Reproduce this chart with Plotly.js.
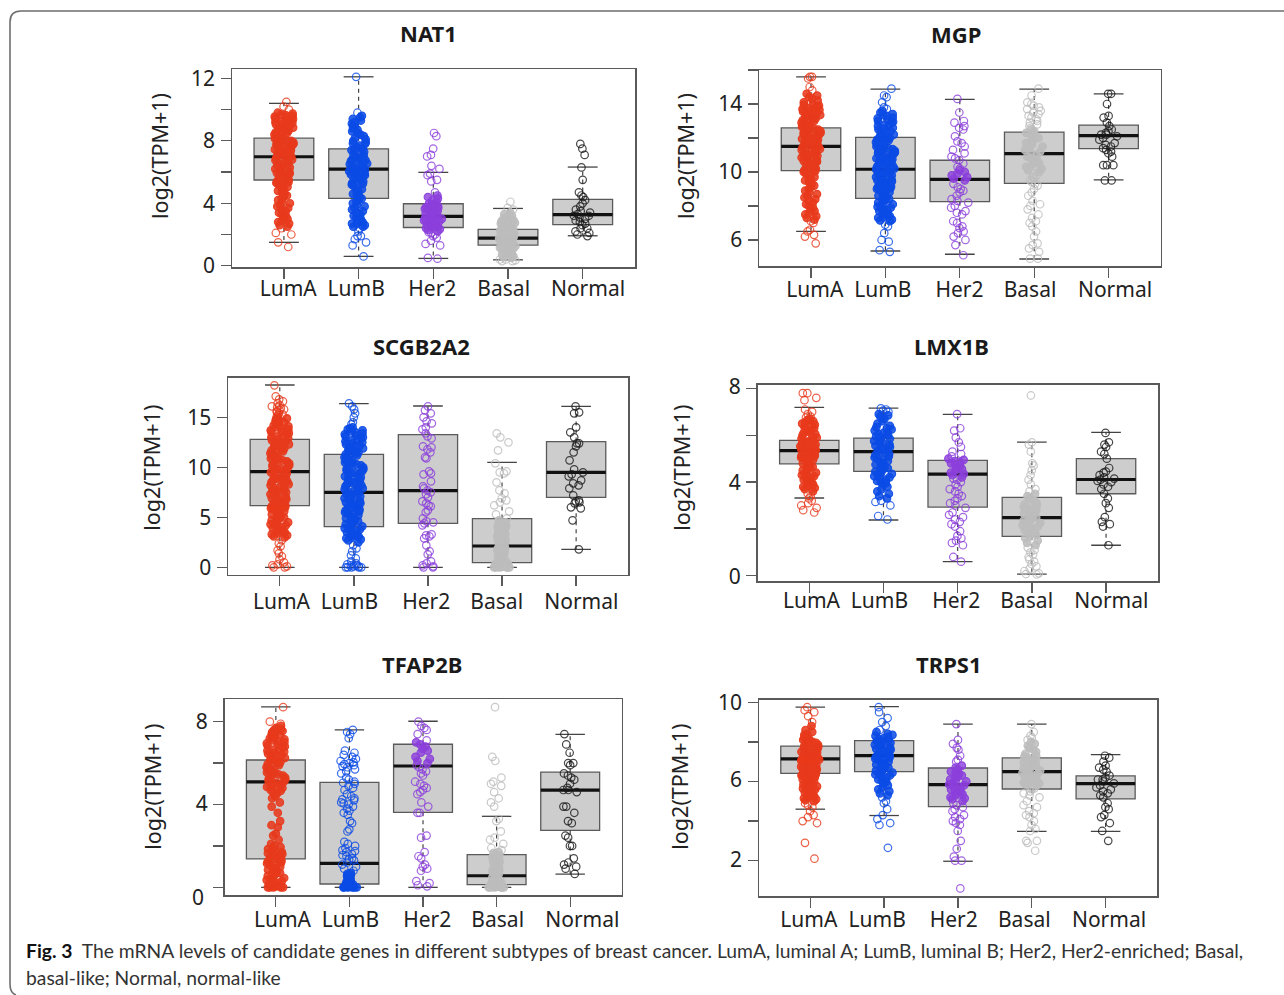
<!DOCTYPE html>
<html>
<head>
<meta charset="utf-8">
<script src="https://cdn.plot.ly/plotly-3.0.1.min.js"></script>
<style>html,body{margin:0;padding:0;background:#fff}#chart{width:1284px;height:995px}</style>
</head>
<body>
<div id="chart"></div>
<script>
// ---------- categories ----------
const subtypes = ['LumA','LumB','Her2','Basal','Normal'];
const positions = [1,2,3,4,5];
const genes = ['NAT1','MGP','SCGB2A2','LMX1B','TFAP2B','TRPS1'];

// ---------- box statistics, one array per gene ----------
const NAT1_q1 = [5.49,4.31,2.45,1.32,2.63], NAT1_med = [6.98,6.19,3.16,1.77,3.27], NAT1_q3 = [8.17,7.49,3.97,2.33,4.25], NAT1_lo = [1.5,0.6,0.47,0.38,1.92], NAT1_hi = [10.4,12.1,5.98,3.67,6.32];
const MGP_q1 = [10.08,8.45,8.25,9.33,11.37], MGP_med = [11.51,10.16,9.57,11.08,12.14], MGP_q3 = [12.59,12.04,10.69,12.35,12.76], MGP_lo = [6.51,5.35,5.16,4.88,9.53], MGP_hi = [15.6,14.88,14.27,14.88,14.6];
const SCGB_q1 = [6.17,4.07,4.4,0.47,7.0], SCGB_med = [9.57,7.5,7.67,2.13,9.5], SCGB_q3 = [12.8,11.3,13.27,4.87,12.57], SCGB_lo = [0,0,0,0,1.8], SCGB_hi = [18.23,16.37,16.13,10.5,16.1];
const LMX_q1 = [4.78,4.46,2.93,1.68,3.5], LMX_med = [5.34,5.3,4.34,2.48,4.11], LMX_q3 = [5.78,5.88,4.93,3.35,5.0], LMX_lo = [3.32,2.38,0.6,0.07,1.3], LMX_hi = [7.19,7.16,6.89,5.71,6.12];
const TFAP_q1 = [1.37,0.16,3.62,0.13,2.75], TFAP_med = [5.09,1.16,5.86,0.56,4.69], TFAP_q3 = [6.15,5.07,6.91,1.58,5.56], TFAP_lo = [0,0,0,0,0.64], TFAP_hi = [8.71,7.6,8.02,3.43,7.39];
const TRPS_q1 = [6.41,6.5,4.73,5.62,5.12], TRPS_med = [7.14,7.31,5.84,6.5,5.89], TRPS_q3 = [7.79,8.06,6.68,7.19,6.28], TRPS_lo = [4.6,4.28,1.97,3.48,3.48], TRPS_hi = [9.76,9.78,8.9,8.9,7.36];

// ---------- individual samples ----------
const NAT1_LumA = [1.2,1.5,2.0,2.1,2.4,2.5,2.6,2.7,2.8,2.9,3.0,3.1,3.2,3.3,3.4,3.5,3.6,3.7,3.8,3.9,4.0,4.1,4.2,4.3,4.4,4.5,4.6,4.7,4.8,4.9,5.0,5.05,5.1,5.2,5.3,5.35,5.4,5.5,5.55,5.6,5.7,5.75,5.8,5.9,5.95,6.0,6.05,6.1,6.2,6.25,6.3,6.4,6.45,6.5,6.55,6.6,6.7,6.75,6.8,6.85,6.9,7.0,7.05,7.1,7.15,7.2,7.25,7.3,7.35,7.4,7.45,7.5,7.55,7.6,7.65,7.7,7.75,7.8,7.85,7.9,7.95,8.0,8.05,8.1,8.15,8.2,8.25,8.3,8.35,8.4,8.45,8.5,8.55,8.6,8.65,8.7,8.75,8.8,8.85,8.9,8.95,9.0,9.05,9.1,9.15,9.2,9.25,9.3,9.35,9.4,9.45,9.5,9.55,9.6,9.65,9.7,9.75,9.8,10.0,10.2,10.5];
const NAT1_LumB = [0.6,1.3,1.5,1.7,1.9,1.9,2.2,2.4,2.5,2.5,2.6,2.7,2.7,2.8,2.9,3.0,3.1,3.2,3.3,3.4,3.5,3.6,3.7,3.8,3.9,4.0,4.1,4.2,4.3,4.4,4.5,4.6,4.7,4.8,4.9,5.0,5.1,5.2,5.25,5.3,5.4,5.5,5.55,5.6,5.7,5.75,5.8,5.85,5.9,5.95,6.0,6.05,6.1,6.15,6.2,6.25,6.3,6.35,6.4,6.45,6.5,6.55,6.6,6.7,6.75,6.8,6.85,6.9,7.0,7.05,7.1,7.2,7.3,7.4,7.45,7.5,7.6,7.7,7.8,7.85,7.9,8.0,8.1,8.2,8.3,8.4,8.5,8.6,8.7,8.8,8.9,9.0,9.1,9.2,9.3,9.4,9.5,9.6,9.8,12.1];
const NAT1_Her2 = [0.45,0.5,1.3,1.4,1.6,1.8,1.9,2.0,2.1,2.15,2.2,2.3,2.35,2.4,2.45,2.5,2.55,2.6,2.65,2.7,2.75,2.8,2.85,2.9,2.95,3.0,3.0,3.05,3.1,3.15,3.2,3.25,3.3,3.35,3.4,3.45,3.5,3.55,3.6,3.65,3.7,3.75,3.8,3.85,3.9,4.0,4.1,4.2,4.3,4.4,4.5,4.7,5.4,5.5,5.8,5.9,6.2,6.4,7.0,7.1,7.5,8.3,8.5];
const NAT1_Basal = [0.3,0.3,0.35,0.4,0.4,0.5,0.55,0.6,0.7,0.75,0.8,0.85,0.9,0.95,1.0,1.05,1.1,1.1,1.15,1.2,1.25,1.3,1.3,1.35,1.4,1.45,1.5,1.5,1.55,1.6,1.6,1.65,1.7,1.7,1.75,1.8,1.8,1.85,1.9,1.9,1.95,2.0,2.0,2.05,2.1,2.15,2.2,2.2,2.25,2.3,2.35,2.4,2.45,2.5,2.55,2.6,2.65,2.7,2.75,2.8,2.85,2.9,2.95,3.0,3.05,3.1,3.2,3.3,3.4,3.6,3.7,4.1];
const NAT1_Normal = [1.9,2.0,2.1,2.2,2.4,2.4,2.6,2.7,2.8,2.9,3.0,3.1,3.2,3.2,3.3,3.4,3.5,3.6,3.8,4.0,4.2,4.4,4.5,4.7,5.5,6.3,7.1,7.5,7.8];

const MGP_LumA = [5.8,6.2,6.3,6.5,6.6,7.0,7.1,7.2,7.3,7.4,7.5,7.6,7.7,7.8,7.9,8.0,8.1,8.2,8.3,8.4,8.5,8.6,8.7,8.8,8.9,9.0,9.1,9.2,9.3,9.4,9.5,9.55,9.6,9.7,9.8,9.9,10.0,10.05,10.1,10.2,10.25,10.3,10.4,10.45,10.5,10.6,10.65,10.7,10.75,10.8,10.85,10.9,10.95,11.0,11.05,11.1,11.15,11.2,11.25,11.3,11.35,11.4,11.45,11.5,11.55,11.6,11.65,11.7,11.75,11.8,11.85,11.9,11.95,12.0,12.05,12.1,12.15,12.2,12.25,12.3,12.35,12.4,12.45,12.5,12.55,12.6,12.65,12.7,12.75,12.8,12.85,12.9,12.95,13.0,13.05,13.1,13.15,13.2,13.25,13.3,13.35,13.4,13.45,13.5,13.55,13.6,13.65,13.7,13.75,13.8,13.85,13.9,13.95,14.0,14.1,14.2,14.3,14.4,14.5,14.6,14.8,15.0,15.5,15.6,15.6];
const MGP_LumB = [5.3,5.4,5.9,6.0,6.4,6.8,6.9,7.1,7.15,7.2,7.3,7.35,7.4,7.5,7.55,7.6,7.7,7.75,7.8,7.9,7.95,8.0,8.1,8.15,8.2,8.3,8.35,8.4,8.5,8.55,8.6,8.7,8.75,8.8,8.9,8.95,9.0,9.05,9.1,9.15,9.2,9.25,9.3,9.35,9.4,9.45,9.5,9.55,9.6,9.65,9.7,9.75,9.8,9.85,9.9,9.95,10.0,10.05,10.1,10.15,10.2,10.25,10.3,10.35,10.4,10.45,10.5,10.55,10.6,10.65,10.7,10.75,10.8,10.85,10.9,10.95,11.0,11.05,11.1,11.15,11.2,11.25,11.3,11.35,11.4,11.45,11.5,11.55,11.6,11.65,11.7,11.75,11.8,11.85,11.9,11.95,12.0,12.05,12.1,12.15,12.2,12.3,12.35,12.4,12.5,12.55,12.6,12.7,12.75,12.8,12.9,12.95,13.0,13.1,13.15,13.2,13.3,13.35,13.4,13.5,13.6,13.7,13.8,14.1,14.4,14.5,14.9];
const MGP_Her2 = [5.1,5.7,6.0,6.2,6.4,6.5,6.7,6.8,7.0,7.1,7.5,7.6,7.7,7.9,8.0,8.2,8.3,8.4,8.6,8.8,8.9,9.0,9.1,9.3,9.5,9.6,9.7,9.8,9.9,10.0,10.1,10.2,10.3,10.5,10.7,10.8,10.9,11.1,11.3,11.5,11.7,11.8,12.1,12.5,12.6,12.7,12.9,13.0,13.5,14.3];
const MGP_Basal = [4.9,4.9,5.3,5.5,5.7,5.8,6.2,6.5,6.8,7.0,7.1,7.3,7.5,7.8,8.0,8.1,8.3,8.6,8.8,9.0,9.2,9.3,9.4,9.5,9.6,9.7,9.8,9.9,10.0,10.1,10.2,10.3,10.4,10.5,10.6,10.7,10.8,10.9,11.0,11.1,11.2,11.3,11.4,11.5,11.6,11.7,11.8,11.9,12.0,12.1,12.2,12.3,12.4,12.5,12.6,12.7,12.8,12.9,13.0,13.1,13.2,13.3,13.4,13.5,13.6,13.7,13.8,13.9,14.0,14.1,14.5,14.9];
const MGP_Normal = [9.5,9.5,10.4,10.4,10.4,10.9,11.1,11.2,11.3,11.4,11.5,11.6,11.7,11.9,12.0,12.1,12.2,12.2,12.3,12.4,12.5,12.7,12.9,13.2,13.3,14.0,14.6,14.6];

const SCGB_LumA = [0,0,0.1,0.2,0.3,0.5,0.8,1.1,1.4,1.7,2.1,2.4,2.7,3.0,3.1,3.2,3.3,3.4,3.5,3.6,3.7,3.8,3.9,4.0,4.1,4.2,4.3,4.4,4.5,4.6,4.7,4.8,4.9,5.0,5.1,5.2,5.3,5.4,5.5,5.6,5.7,5.8,5.9,6.0,6.1,6.2,6.3,6.4,6.5,6.6,6.7,6.8,6.9,7.0,7.1,7.2,7.3,7.4,7.5,7.6,7.7,7.8,7.9,8.0,8.1,8.2,8.3,8.4,8.5,8.6,8.7,8.8,8.9,9.0,9.1,9.2,9.3,9.4,9.5,9.6,9.7,9.8,9.9,10.0,10.1,10.2,10.3,10.4,10.5,10.6,10.7,10.8,10.9,11.0,11.1,11.2,11.3,11.4,11.5,11.6,11.7,11.8,11.9,12.0,12.1,12.2,12.3,12.4,12.5,12.6,12.7,12.8,12.9,13.0,13.1,13.2,13.3,13.4,13.5,13.6,13.7,13.8,13.9,14.0,14.1,14.2,14.3,14.4,14.5,14.6,14.7,14.8,14.9,15.0,15.1,15.2,15.3,15.4,15.5,15.6,15.7,15.8,15.9,16.0,16.1,16.2,16.4,16.6,16.8,17.1,18.2];
const SCGB_LumB = [0,0,0,0,0,0.1,0.1,0.2,0.2,0.3,0.4,0.6,0.9,1.2,1.6,1.9,2.2,2.5,2.7,2.8,2.9,3.0,3.1,3.2,3.3,3.4,3.5,3.6,3.7,3.8,3.9,4.0,4.1,4.2,4.3,4.4,4.5,4.6,4.7,4.8,4.9,5.0,5.1,5.2,5.3,5.4,5.5,5.6,5.7,5.8,5.9,6.0,6.1,6.2,6.3,6.4,6.5,6.6,6.7,6.8,6.9,7.0,7.1,7.2,7.3,7.4,7.5,7.6,7.7,7.8,7.9,8.0,8.1,8.2,8.3,8.4,8.5,8.6,8.7,8.8,8.9,9.0,9.1,9.2,9.3,9.4,9.5,9.6,9.7,9.8,9.9,10.0,10.1,10.2,10.3,10.4,10.5,10.6,10.7,10.8,10.9,11.0,11.1,11.2,11.3,11.4,11.5,11.6,11.7,11.8,11.9,12.0,12.1,12.2,12.3,12.4,12.5,12.6,12.7,12.8,12.9,13.0,13.1,13.2,13.3,13.4,13.5,13.6,13.7,13.8,13.9,14.0,14.3,14.5,15.0,15.4,15.8,16.1,16.4];
const SCGB_Her2 = [0,0,0.1,0.2,0.4,0.6,1.3,1.6,2.2,2.9,3.1,3.2,3.3,4.2,4.4,4.5,4.6,4.9,5.5,5.7,6.1,6.2,6.4,6.6,7.0,7.3,7.5,7.7,7.9,8.1,8.6,9.3,9.4,9.6,10.9,11.0,11.5,11.8,12.0,12.1,12.9,13.1,13.4,13.8,14.0,14.4,14.6,15.0,15.4,15.7,16.1];
const SCGB_Basal = [0,0,0,0,0,0,0.05,0.1,0.1,0.15,0.2,0.2,0.3,0.3,0.4,0.4,0.5,0.5,0.6,0.7,0.8,0.9,1.0,1.1,1.2,1.3,1.4,1.5,1.6,1.7,1.8,1.9,2.0,2.1,2.2,2.3,2.4,2.5,2.6,2.7,2.8,2.9,3.0,3.1,3.2,3.3,3.4,3.5,3.6,3.7,3.8,3.9,4.0,4.1,4.2,4.3,4.5,4.7,4.9,5.3,5.6,6.2,6.5,6.7,6.9,7.4,7.7,8.5,9.4,9.5,9.6,10.4,11.7,12.5,13.0,13.4];
const SCGB_Normal = [1.8,4.7,5.9,6.0,6.4,6.5,6.6,6.7,7.2,7.9,8.2,8.4,8.7,9.1,9.3,9.5,9.8,10.7,11.5,12.1,12.4,12.4,13.0,13.5,14.0,15.4,15.5,16.1];

const LMX_LumA = [2.7,2.8,2.9,3.0,3.1,3.2,3.3,3.4,3.5,3.6,3.7,3.75,3.8,3.85,3.9,3.95,4.0,4.05,4.1,4.15,4.2,4.25,4.3,4.35,4.4,4.45,4.5,4.55,4.6,4.65,4.7,4.75,4.8,4.85,4.9,4.95,5.0,5.03,5.05,5.1,5.13,5.15,5.2,5.23,5.25,5.3,5.33,5.35,5.4,5.43,5.45,5.5,5.53,5.55,5.6,5.63,5.65,5.7,5.73,5.75,5.8,5.85,5.9,5.95,6.0,6.05,6.1,6.15,6.2,6.25,6.3,6.35,6.4,6.45,6.5,6.55,6.6,6.65,6.7,6.75,6.8,6.9,7.0,7.1,7.5,7.6,7.8,7.8];
const LMX_LumB = [2.4,2.55,3.0,3.15,3.2,3.3,3.4,3.5,3.6,3.7,3.8,3.9,3.95,4.0,4.05,4.1,4.15,4.2,4.25,4.3,4.35,4.4,4.45,4.5,4.55,4.6,4.65,4.7,4.75,4.8,4.85,4.9,4.95,5.0,5.05,5.1,5.15,5.2,5.25,5.3,5.35,5.4,5.45,5.5,5.55,5.6,5.65,5.7,5.75,5.8,5.85,5.9,5.95,6.0,6.05,6.1,6.15,6.2,6.25,6.3,6.35,6.4,6.5,6.6,6.7,6.8,6.85,6.9,7.0,7.05,7.1,7.15];
const LMX_Her2 = [0.6,0.8,1.3,1.4,1.5,1.6,1.7,1.9,2.1,2.2,2.3,2.4,2.5,2.6,2.7,2.9,3.0,3.1,3.2,3.3,3.4,3.5,3.6,3.7,3.8,3.9,4.0,4.1,4.15,4.2,4.3,4.35,4.4,4.5,4.55,4.6,4.7,4.75,4.8,4.85,4.9,4.95,5.0,5.1,5.2,5.3,5.5,5.7,5.9,6.2,6.3,6.9];
const LMX_Basal = [0.05,0.07,0.1,0.2,0.3,0.4,0.5,0.6,0.7,0.8,0.9,1.0,1.1,1.2,1.3,1.4,1.5,1.6,1.7,1.75,1.8,1.85,1.9,1.95,2.0,2.05,2.1,2.15,2.2,2.25,2.3,2.35,2.4,2.45,2.5,2.55,2.6,2.65,2.7,2.75,2.8,2.85,2.9,2.95,3.0,3.05,3.1,3.2,3.3,3.4,3.5,3.6,3.7,3.9,4.1,4.3,4.5,4.7,4.8,5.3,5.6,5.7,7.7];
const LMX_Normal = [1.3,2.1,2.2,2.3,2.5,2.9,3.1,3.3,3.5,3.7,3.8,3.9,4.0,4.05,4.1,4.15,4.2,4.3,4.4,4.45,4.6,5.0,5.2,5.3,5.5,5.6,5.7,6.1];

const TFAP_LumA = [0,0,0,0,0,0.05,0.05,0.1,0.1,0.15,0.2,0.25,0.3,0.35,0.4,0.45,0.5,0.55,0.6,0.65,0.7,0.75,0.8,0.85,0.9,0.95,1.0,1.05,1.1,1.15,1.2,1.25,1.3,1.35,1.4,1.45,1.5,1.55,1.6,1.65,1.7,1.75,1.8,1.85,1.9,1.95,2.0,2.1,2.3,2.5,2.6,2.9,3.0,3.2,3.6,3.9,4.1,4.3,4.4,4.5,4.6,4.65,4.7,4.75,4.8,4.85,4.9,4.95,5.0,5.05,5.1,5.15,5.2,5.25,5.3,5.35,5.4,5.45,5.5,5.55,5.6,5.65,5.7,5.75,5.8,5.85,5.9,5.95,6.0,6.05,6.1,6.15,6.2,6.25,6.3,6.35,6.4,6.45,6.5,6.55,6.6,6.65,6.7,6.75,6.8,6.85,6.9,6.95,7.0,7.05,7.1,7.15,7.2,7.25,7.3,7.35,7.4,7.45,7.5,7.55,7.6,7.65,7.7,7.8,7.9,8.0,8.7];
const TFAP_LumB = [0,0,0,0,0,0,0.02,0.02,0.05,0.05,0.08,0.1,0.1,0.1,0.12,0.15,0.15,0.2,0.2,0.2,0.25,0.25,0.3,0.3,0.35,0.4,0.4,0.45,0.5,0.55,0.6,0.65,0.7,0.8,0.9,1.0,1.1,1.2,1.3,1.35,1.4,1.5,1.55,1.6,1.7,1.75,1.8,1.9,2.0,2.1,2.2,2.7,2.8,3.1,3.2,3.5,3.6,3.7,3.8,3.9,4.0,4.05,4.1,4.2,4.25,4.3,4.4,4.5,4.7,4.8,4.9,5.0,5.05,5.1,5.2,5.3,5.5,5.6,5.7,5.8,5.85,5.9,5.95,6.0,6.05,6.1,6.2,6.3,6.4,6.5,6.6,7.2,7.4,7.5,7.6];
const TFAP_Her2 = [0.05,0.1,0.2,0.3,0.8,0.9,1.0,1.1,1.4,1.5,1.7,2.4,2.5,3.6,3.6,3.9,4.1,4.5,4.6,4.7,4.8,4.9,5.0,5.1,5.4,5.5,5.6,5.7,5.8,5.9,6.0,6.1,6.2,6.3,6.5,6.6,6.7,6.8,6.9,7.0,7.1,7.4,7.6,7.7,7.8,8.0];
const TFAP_Basal = [0,0,0,0,0,0,0.02,0.05,0.05,0.1,0.1,0.15,0.15,0.2,0.2,0.25,0.3,0.3,0.35,0.4,0.4,0.45,0.5,0.5,0.55,0.6,0.65,0.7,0.7,0.75,0.8,0.85,0.9,0.95,1.0,1.05,1.1,1.15,1.2,1.25,1.3,1.35,1.4,1.45,1.5,1.55,1.6,1.65,1.7,1.8,1.9,2.1,2.3,2.4,2.7,3.2,3.3,3.9,4.1,4.3,4.6,4.9,5.0,5.1,5.3,6.1,6.3,8.7];
const TFAP_Normal = [0.65,0.9,1.0,1.1,1.2,1.4,2.0,2.0,2.4,2.5,3.1,3.2,3.6,3.9,3.9,4.6,4.7,4.7,4.8,5.0,5.2,5.3,5.4,5.5,5.9,6.0,6.0,6.5,6.9,7.4];

const TRPS_LumA = [2.1,2.9,3.9,4.0,4.2,4.3,4.5,4.7,4.8,4.9,5.0,5.05,5.1,5.15,5.2,5.25,5.3,5.35,5.4,5.45,5.5,5.55,5.6,5.65,5.7,5.75,5.8,5.85,5.9,5.95,6.0,6.03,6.05,6.1,6.13,6.15,6.2,6.23,6.25,6.3,6.33,6.35,6.4,6.43,6.45,6.5,6.53,6.55,6.6,6.63,6.65,6.7,6.73,6.75,6.8,6.83,6.85,6.9,6.93,6.95,7.0,7.03,7.05,7.1,7.13,7.15,7.2,7.23,7.25,7.3,7.33,7.35,7.4,7.43,7.45,7.5,7.53,7.55,7.6,7.63,7.65,7.7,7.75,7.8,7.85,7.9,7.95,8.0,8.05,8.1,8.15,8.2,8.25,8.3,8.35,8.4,8.5,8.6,8.8,9.0,9.3,9.5,9.6,9.75];
const TRPS_LumB = [2.65,3.8,3.9,4.1,4.3,4.6,4.9,5.0,5.2,5.3,5.4,5.5,5.6,5.7,5.8,5.9,6.0,6.05,6.1,6.2,6.25,6.3,6.35,6.4,6.45,6.5,6.55,6.6,6.65,6.7,6.75,6.8,6.85,6.9,6.95,7.0,7.05,7.1,7.15,7.2,7.25,7.3,7.35,7.4,7.45,7.5,7.55,7.6,7.65,7.7,7.75,7.8,7.85,7.9,7.95,8.0,8.05,8.1,8.15,8.2,8.25,8.3,8.35,8.4,8.5,8.6,8.8,9.0,9.2,9.5,9.75];
const TRPS_Her2 = [0.6,2.0,2.0,2.2,2.6,3.0,3.5,3.8,3.9,4.0,4.1,4.2,4.3,4.5,4.6,4.7,4.8,4.9,5.0,5.1,5.15,5.2,5.3,5.35,5.4,5.5,5.55,5.6,5.7,5.75,5.8,5.85,5.9,6.0,6.05,6.1,6.2,6.25,6.3,6.4,6.45,6.5,6.6,6.7,6.8,7.0,7.1,7.3,7.6,7.7,7.9,8.1,8.9];
const TRPS_Basal = [2.5,2.9,3.0,3.0,3.5,3.6,3.8,4.0,4.2,4.3,4.4,4.5,4.7,4.8,5.0,5.2,5.3,5.4,5.5,5.6,5.65,5.7,5.75,5.8,5.85,5.9,5.95,6.0,6.05,6.1,6.15,6.2,6.25,6.3,6.35,6.4,6.45,6.5,6.55,6.6,6.65,6.7,6.75,6.8,6.85,6.9,6.95,7.0,7.05,7.1,7.15,7.2,7.25,7.3,7.4,7.5,7.6,7.7,7.8,7.9,8.0,8.1,8.2,8.3,8.5,8.9];
const TRPS_Normal = [3.0,3.5,3.9,4.2,4.3,4.6,4.7,4.9,5.2,5.3,5.4,5.5,5.6,5.7,5.8,5.9,6.0,6.1,6.1,6.2,6.3,6.5,6.6,6.7,6.8,7.0,7.2,7.3];

// ---------- axis ticks ----------
const NAT1_ticks = [0,2,4,6,8,10,12], NAT1_labels = ['0','','4','','8','','12'];
const MGP_ticks = [6,8,10,12,14,16], MGP_labels = ['6','','10','','14',''];
const SCGB_ticks = [0,5,10,15], SCGB_labels = ['0','5','10','15'];
const LMX_ticks = [0,2,4,6,8], LMX_labels = ['0','','4','','8'];
const TFAP_ticks = [0,2,4,6,8], TFAP_labels = ['','','4','','8'];
const TRPS_ticks = [2,4,6,8,10], TRPS_labels = ['2','','6','','10'];

// ---------- styling and layout (pixels on the 1284x995 page) ----------
const colors = ['#E83A1C','#0B4BE6','#8C3FDC','#BDBDBD','#1A1A1A'];
const coreFills = ['rgba(232,58,28,.92)','rgba(11,75,230,.9)','rgba(140,63,220,.85)','rgba(189,189,189,.9)','rgba(0,0,0,0)'];
const W = 1284, H = 995, FONT = 'Noto Sans, Open Sans, sans-serif';
// value band of each subtype where the picture's rings merge into a solid column
const panels = [
 {g:'NAT1', q1:NAT1_q1,med:NAT1_med,q3:NAT1_q3,lo:NAT1_lo,hi:NAT1_hi, s:[NAT1_LumA,NAT1_LumB,NAT1_Her2,NAT1_Basal,NAT1_Normal], t:NAT1_ticks,l:NAT1_labels, lt:NAT1_ticks,
  box:[232,635,69,267], yr:[-0.08,12.6], title:[428,33], yt:[159,156], lx:[288.2,356.2,432.3,503.7,588], so:7,
  solid:[[2.5,9.8],[2.5,9.6],[2.2,4.5],[0.5,3.4],null]},
 {g:'MGP', q1:MGP_q1,med:MGP_med,q3:MGP_q3,lo:MGP_lo,hi:MGP_hi, s:[MGP_LumA,MGP_LumB,MGP_Her2,MGP_Basal,MGP_Normal], t:MGP_ticks,l:MGP_labels, lt:MGP_ticks,
  box:[759.3,1160.7,70,266.3], yr:[4.45,16], title:[955.5,34], yt:[685,156], lx:[814.8,882.8,959.5,1030,1115], so:9,
  solid:[[7.2,14.6],[7,13.6],[9.5,10.1],[10,12.5],null]},
 {g:'SCGB2A2', q1:SCGB_q1,med:SCGB_med,q3:SCGB_q3,lo:SCGB_lo,hi:SCGB_hi, s:[SCGB_LumA,SCGB_LumB,SCGB_Her2,SCGB_Basal,SCGB_Normal], t:SCGB_ticks,l:SCGB_labels, lt:SCGB_ticks,
  box:[228.3,628,377.7,574.7], yr:[-0.74,18.96], title:[421.5,346], yt:[152,467.7], lx:[281.5,349.5,426.2,496.7,581.3], so:12,
  solid:[[3,15],[2.5,14],null,[0,4.7],null]},
 {g:'LMX1B', q1:LMX_q1,med:LMX_med,q3:LMX_q3,lo:LMX_lo,hi:LMX_hi, s:[LMX_LumA,LMX_LumB,LMX_Her2,LMX_Basal,LMX_Normal], t:LMX_ticks,l:LMX_labels, lt:[-0.02,2,3.98,6,8.07],
  box:[757.7,1158,384.7,581.3], yr:[-0.24,8.16], title:[951.5,346], yt:[682,467.7], lx:[811.5,879.5,956.2,1026.7,1111.3], so:5,
  solid:[[3.6,6.7],[3.3,6.9],[4.2,5],[1.3,3.5],null]},
 {g:'TFAP2B', q1:TFAP_q1,med:TFAP_med,q3:TFAP_q3,lo:TFAP_lo,hi:TFAP_hi, s:[TFAP_LumA,TFAP_LumB,TFAP_Her2,TFAP_Basal,TFAP_Normal], t:TFAP_ticks,l:TFAP_labels, lt:[0,2,4.05,6,8],
  box:[224.7,621.7,699.3,895], yr:[-0.37,9.08], title:[422,664], yt:[153,786.7], lx:[282.5,350.5,427.2,497.7,582.3], so:10, zero:[198,897],
  solid:[[0,7.8],[0,0.7],[6,7],[0,1.7],null]},
 {g:'TRPS1', q1:TRPS_q1,med:TRPS_med,q3:TRPS_q3,lo:TRPS_lo,hi:TRPS_hi, s:[TRPS_LumA,TRPS_LumB,TRPS_Her2,TRPS_Basal,TRPS_Normal], t:TRPS_ticks,l:TRPS_labels, lt:[2.03,4,6.08,8,10],
  box:[759,1157.3,699.7,896], yr:[0.215,10.13], title:[949,664], yt:[680,786.7], lx:[808.8,877.2,953.7,1024.3,1109], so:9,
  solid:[[5,8.9],[5.3,8.5],[5,6.8],[5.8,8],null]}
];
const XR = [0.305,5.70], AX = '#5A5A5A';
const traces = [], annotations = [];
const layout = {width:W,height:H,margin:{l:0,r:0,t:0,b:0},paper_bgcolor:'#fff',plot_bgcolor:'rgba(0,0,0,0)',showlegend:false,boxmode:'overlay',
  font:{family:FONT,color:'#222'},hovermode:'closest',annotations,
  shapes:[{type:'path',xref:'paper',yref:'paper',line:{color:'#6E6E6E',width:1.6},
    path:`M 1 ${1-11/H} L ${21/W} ${1-11/H} Q ${10/W} ${1-11/H} ${10/W} ${1-22/H} L ${10/W} ${1-984/H} Q ${10/W} ${1-993/H} ${16/W} ${1-995/H}`}]};

panels.forEach((p,i)=>{
  const n=i+1, m=i+7, [x0,x1,y0,y1]=p.box;
  const xd=[x0/W,x1/W], yd=[1-y1/H,1-y0/H];
  const xa='x'+n, ya='y'+n, xb='x'+m, yb='y'+m;
  const labelPos = p.lx.map(px=>XR[0]+(px-x0)/(x1-x0)*(XR[1]-XR[0]));
  // axes carrying frame and tick marks
  layout['xaxis'+n]={domain:xd,range:XR,anchor:ya,tickmode:'array',tickvals:positions,ticktext:subtypes.map(()=>''),ticks:'outside',ticklen:10,tickwidth:1.3,tickcolor:AX,
    showgrid:false,zeroline:false,showline:true,linecolor:AX,linewidth:1.5,mirror:true,fixedrange:true};
  layout['yaxis'+n]={domain:yd,range:p.yr,anchor:xa,tickmode:'array',tickvals:p.t,ticktext:p.t.map(()=>''),ticks:'outside',ticklen:10,tickwidth:1.3,tickcolor:AX,
    showgrid:false,zeroline:false,showline:true,linecolor:AX,linewidth:1.5,mirror:true,fixedrange:true};
  // overlaid axes carrying the hand-placed labels
  layout['xaxis'+m]={domain:xd,range:XR,anchor:yb,overlaying:xa,tickmode:'array',tickvals:labelPos,ticktext:subtypes,ticks:'',ticklabelstandoff:p.so,
    tickfont:{family:FONT,size:21,color:'#222'},showgrid:false,zeroline:false,showline:false,fixedrange:true};
  layout['yaxis'+m]={domain:yd,range:p.yr,anchor:xb,overlaying:ya,tickmode:'array',tickvals:p.lt,ticktext:p.l,ticks:'',ticklabelstandoff:16,
    tickfont:{family:FONT,size:21,color:'#222'},showgrid:false,zeroline:false,showline:false,fixedrange:true};

  // boxes (whiskers are drawn separately so they can be dashed)
  traces.push({type:'box',xaxis:xa,yaxis:ya,x:positions,q1:p.q1,median:p.med,q3:p.q3,lowerfence:p.q1,upperfence:p.q3,
    width:0.8,whiskerwidth:0,boxpoints:false,fillcolor:'#CDCDCD',line:{color:'#5A5A5A',width:1.3},hoverinfo:'skip'});
  positions.forEach((pos,k)=>{
    traces.push({type:'scatter',mode:'lines',xaxis:xa,yaxis:ya,x:[pos,pos,null,pos,pos],y:[p.q3[k],p.hi[k],null,p.q1[k],p.lo[k]],line:{color:'#444',width:1.2,dash:'4px,4px'},hoverinfo:'skip'});
    traces.push({type:'scatter',mode:'lines',xaxis:xa,yaxis:ya,x:[pos-0.2,pos+0.2,null,pos-0.2,pos+0.2],y:[p.hi[k],p.hi[k],null,p.lo[k],p.lo[k]],line:{color:'#444',width:1.3},hoverinfo:'skip'});
    traces.push({type:'scatter',mode:'lines',xaxis:xa,yaxis:ya,x:[pos-0.4,pos+0.4],y:[p.med[k],p.med[k]],line:{color:'#111',width:3.2},hoverinfo:'skip'});
  });
  // jittered samples, placed by the library's own box-point jitter:
  // hollow rings for the sparse tails, merged colour inside the solid band
  const pointTrace=(vals,k,fill,op)=>({type:'box',xaxis:xb,yaxis:yb,name:subtypes[k],x0:positions[k],y:vals,width:0.8,boxpoints:'all',jitter:0.32,pointpos:0,
      fillcolor:'rgba(0,0,0,0)',line:{color:'rgba(0,0,0,0)',width:0},whiskerwidth:0,
      marker:{symbol:'circle',size:7.5,color:fill,opacity:op,line:{color:colors[k],width:1.2}}});
  p.s.forEach((vals,k)=>{
    const b=p.solid[k];
    const tails=b?vals.filter(v=>v<b[0]||v>b[1]):vals;
    const core=b?vals.filter(v=>v>=b[0]&&v<=b[1]):[];
    if(tails.length) traces.push(pointTrace(tails,k,'rgba(0,0,0,0)',0.8));
    if(core.length) traces.push(pointTrace(core,k,coreFills[k],0.95));
  });
  annotations.push({xref:'paper',yref:'paper',x:p.title[0]/W,y:1-p.title[1]/H,text:'<b>'+p.g+'</b>',showarrow:false,xanchor:'center',yanchor:'middle',font:{family:FONT,size:22,color:'#1a1a1a'}});
  annotations.push({xref:'paper',yref:'paper',x:p.yt[0]/W,y:1-p.yt[1]/H,text:'log2(TPM+1)',textangle:-90,showarrow:false,xanchor:'center',yanchor:'middle',font:{family:FONT,size:21.5,color:'#222'}});
  if(p.zero) annotations.push({xref:'paper',yref:'paper',x:p.zero[0]/W,y:1-p.zero[1]/H,text:'0',showarrow:false,xanchor:'center',yanchor:'middle',font:{family:FONT,size:21,color:'#222'}});
});
annotations.push({xref:'paper',yref:'paper',x:24/W,y:1-950/H,xanchor:'left',yanchor:'middle',showarrow:false,font:{family:'Lato, Open Sans, sans-serif',size:19.3,color:'#333'},
  text:'<b style="color:#111">Fig. 3</b>  The mRNA levels of candidate genes in different subtypes of breast cancer. LumA, luminal A; LumB, luminal B; Her2, Her2-enriched; Basal,'});
annotations.push({xref:'paper',yref:'paper',x:24/W,y:1-977/H,xanchor:'left',yanchor:'middle',showarrow:false,font:{family:'Lato, Open Sans, sans-serif',size:19.3,color:'#333'},
  text:'basal-like; Normal, normal-like'});
Plotly.newPlot('chart',traces,layout,{displayModeBar:false,staticPlot:true});
</script>
</body>
</html>
